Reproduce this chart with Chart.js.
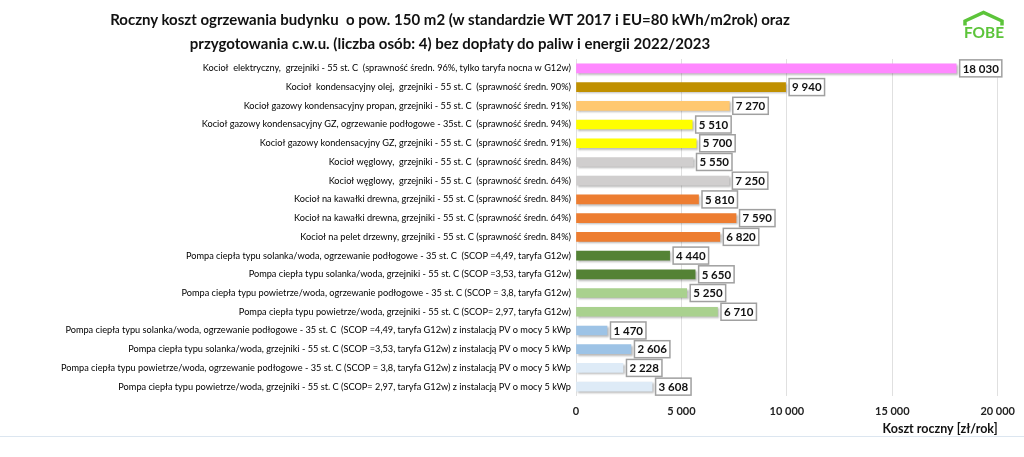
<!DOCTYPE html>
<html>
<head>
<meta charset="utf-8">
<script src="https://cdn.jsdelivr.net/npm/chart.js@4"></script>
<style>
  html, body { margin: 0; padding: 0; background: #fff; }
  #wrap { position: relative; width: 1024px; height: 457px; overflow: hidden; font-family: Lato, sans-serif; }
  #title { position: absolute; left: 0; top: 7px; width: 900px; text-align: center; font-weight: bold; font-size: 15px; line-height: 24px; color: #111; }
  #chart { position: absolute; left: 0; top: 0; }
  #bottomline { position: absolute; left: 0; top: 436px; width: 1024px; height: 1px; background: #dce6f0; }
</style>
</head>
<body>
<div id="wrap">
  <canvas id="chart" width="1024" height="457"></canvas>
  <div id="title">Roczny koszt ogrzewania budynku&nbsp; o pow. 150 m2 (w standardzie WT 2017 i EU=80 kWh/m2rok) oraz<br>przygotowania c.w.u. (liczba osób: 4) bez dopłaty do paliw i energii 2022/2023</div>
  <div id="bottomline"></div>
</div>
<script>
const categories = [
  "Kocioł  elektryczny,  grzejniki - 55 st. C  (sprawność średn. 96%, tylko taryfa nocna w G12w)",
  "Kocioł  kondensacyjny olej,  grzejniki - 55 st. C  (sprawność średn. 90%)",
  "Kocioł gazowy kondensacyjny propan, grzejniki - 55 st. C  (sprawność średn. 91%)",
  "Kocioł gazowy kondensacyjny GZ, ogrzewanie podłogowe - 35st. C  (sprawność średn. 94%)",
  "Kocioł gazowy kondensacyjny GZ, grzejniki - 55 st. C  (sprawność średn. 91%)",
  "Kocioł węglowy,  grzejniki - 55 st. C  (sprawność średn. 84%)",
  "Kocioł węglowy,  grzejniki - 55 st. C  (sprawność średn. 64%)",
  "Kocioł na kawałki drewna, grzejniki - 55 st. C (sprawność średn. 84%)",
  "Kocioł na kawałki drewna, grzejniki - 55 st. C (sprawność średn. 64%)",
  "Kocioł na pelet drzewny, grzejniki - 55 st. C (sprawność średn. 84%)",
  "Pompa ciepła typu solanka/woda, ogrzewanie podłogowe - 35 st. C  (SCOP =4,49, taryfa G12w)",
  "Pompa ciepła typu solanka/woda, grzejniki - 55 st. C (SCOP =3,53, taryfa G12w)",
  "Pompa ciepła typu powietrze/woda, ogrzewanie podłogowe - 35 st. C (SCOP = 3,8, taryfa G12w)",
  "Pompa ciepła typu powietrze/woda, grzejniki - 55 st. C (SCOP= 2,97, taryfa G12w)",
  "Pompa ciepła typu solanka/woda, ogrzewanie podłogowe - 35 st. C  (SCOP =4,49, taryfa G12w) z instalacją PV o mocy 5 kWp",
  "Pompa ciepła typu solanka/woda, grzejniki - 55 st. C (SCOP =3,53, taryfa G12w) z instalacją PV o mocy 5 kWp",
  "Pompa ciepła typu powietrze/woda, ogrzewanie podłogowe - 35 st. C (SCOP = 3,8, taryfa G12w) z instalacją PV o mocy 5 kWp",
  "Pompa ciepła typu powietrze/woda, grzejniki - 55 st. C (SCOP= 2,97, taryfa G12w) z instalacją PV o mocy 5 kWp"
];
const values = [18030, 9940, 7270, 5510, 5700, 5550, 7250, 5810, 7590, 6820, 4440, 5650, 5250, 6710, 1470, 2606, 2228, 3608];
const barColors = [
  "#ff88ff", "#c09000", "#ffc870", "#ffff00", "#ffff00", "#d0cece", "#d0cece",
  "#ed7d31", "#ed7d31", "#ed7d31", "#548235", "#548235", "#a9d18e", "#a9d18e",
  "#9dc3e6", "#9dc3e6", "#deebf7", "#deebf7"
];
const xMin = 0, xMax = 20000, xStep = 5000;
const axisTitle = "Koszt roczny [zł/rok]";
const logoText = "FOBE";

function fmt(v) {
  return String(Math.round(v)).replace(/\B(?=(\d{3})+(?!\d))/g, " ");
}

const shadowPlugin = {
  id: 'barShadow',
  beforeDatasetDraw(chart) {
    const ctx = chart.ctx;
    ctx.save();
    ctx.shadowColor = 'rgba(0,0,0,0.28)';
    ctx.shadowBlur = 2;
    ctx.shadowOffsetX = 1.5;
    ctx.shadowOffsetY = 1.5;
  },
  afterDatasetDraw(chart) {
    chart.ctx.restore();
  }
};

const labelPlugin = {
  id: 'valueBoxes',
  afterDatasetsDraw(chart) {
    const ctx = chart.ctx;
    const meta = chart.getDatasetMeta(0);
    ctx.save();
    ctx.font = 'bold 11.5px Lato';
    ctx.textBaseline = 'middle';
    ctx.textAlign = 'left';
    meta.data.forEach((bar, i) => {
      const t = fmt(chart.data.datasets[0].data[i]);
      const w = ctx.measureText(t).width + 6;
      const h = 17;
      const x = bar.x + 3.5;
      const y = bar.y - h / 2;
      ctx.fillStyle = '#fff';
      ctx.fillRect(x, y, w, h);
      ctx.strokeStyle = '#a0a0a0';
      ctx.lineWidth = 1.5;
      ctx.strokeRect(x, y, w, h);
      ctx.fillStyle = '#111';
      ctx.fillText(t, x + 3, bar.y + 0.5);
    });
    ctx.restore();
  }
};

const logoPlugin = {
  id: 'logo',
  afterDraw(chart) {
    const ctx = chart.ctx;
    ctx.save();
    const green = '#5cc43a';
    ctx.strokeStyle = green;
    ctx.lineWidth = 3.5;
    ctx.lineJoin = 'miter';
    ctx.beginPath();
    ctx.moveTo(965, 25.5);
    ctx.lineTo(965, 21);
    ctx.lineTo(983.5, 12.5);
    ctx.lineTo(1002, 21);
    ctx.lineTo(1002, 25.5);
    ctx.stroke();
    ctx.font = 'bold 15px Lato';
    const mw = ctx.measureText(logoText).width;
    const size = 15 * 40 / mw;
    ctx.font = 'bold ' + size.toFixed(2) + 'px Lato';
    ctx.fillStyle = green;
    ctx.textAlign = 'left';
    ctx.textBaseline = 'alphabetic';
    ctx.fillText(logoText, 964, 37.5);
    ctx.restore();
  }
};

new Chart(document.getElementById('chart'), {
  type: 'bar',
  data: {
    labels: categories,
    datasets: [{
      data: values,
      backgroundColor: barColors,
      borderWidth: 0,
      barThickness: 9
    }]
  },
  options: {
    indexAxis: 'y',
    responsive: false,
    animation: false,
    devicePixelRatio: 1,
    layout: { padding: { top: 59, right: 21, bottom: 0, left: 0 } },
    plugins: { legend: { display: false }, tooltip: { enabled: false }, title: { display: false } },
    scales: {
      x: {
        min: xMin, max: xMax,
        afterFit(scale) { scale.height = 61; },
        ticks: {
          stepSize: xStep,
          padding: 9,
          color: '#222',
          font: { family: 'Lato', size: 11, weight: 'bold' },
          callback: (v) => fmt(v)
        },
        grid: { color: '#e0e0e0', drawTicks: false, lineWidth: 1 },
        border: { display: false },
        title: {
          display: true,
          text: axisTitle,
          align: 'end',
          color: '#111',
          font: { family: 'Lato', size: 12.5, weight: 'bold' },
          padding: { top: 0, bottom: 21 }
        }
      },
      y: {
        afterFit(scale) { scale.width = 576; },
        ticks: {
          autoSkip: false,
          padding: 5,
          color: '#000',
          font: { family: 'Lato', size: 9.2 }
        },
        grid: { display: false, drawTicks: false },
        border: { display: false }
      }
    }
  },
  plugins: [shadowPlugin, labelPlugin, logoPlugin]
});
</script>
</body>
</html>
